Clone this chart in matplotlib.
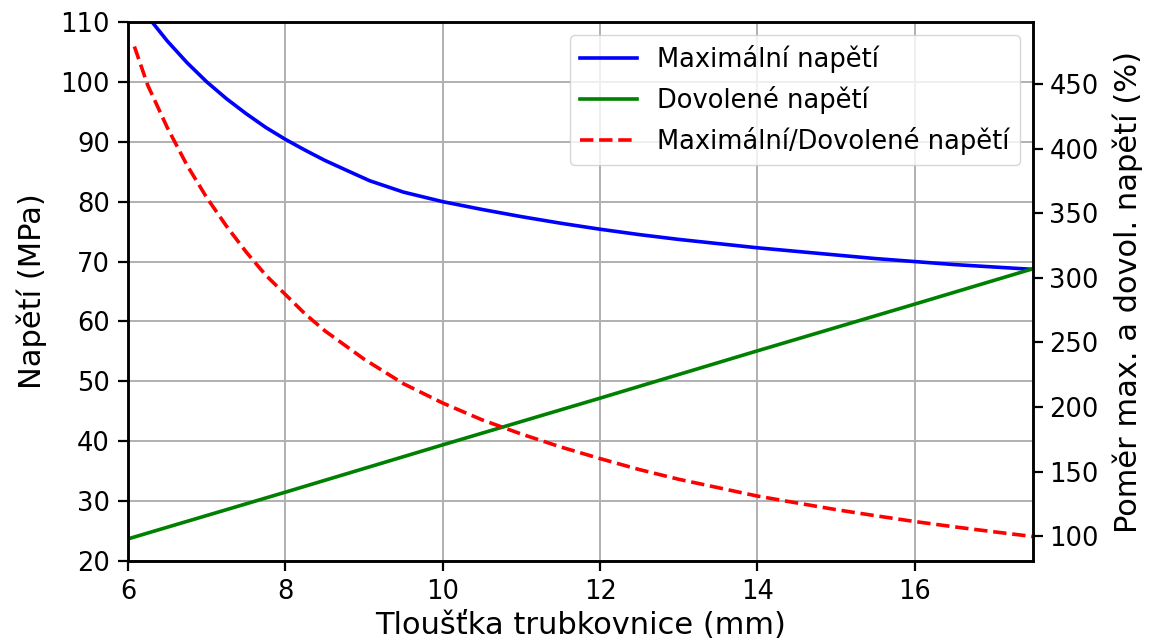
import matplotlib
matplotlib.use("Agg")
import matplotlib.pyplot as plt

# maximalni napeti (MPa) vs tloustka trubkovnice (mm)
thickness_max = [6.0, 6.25, 6.5, 6.75, 7.0, 7.25, 7.5, 7.75, 8.0, 8.25, 8.5, 8.75, 9.07,
                 9.5, 10.0, 10.5, 11.0, 11.5, 12.0, 12.5, 13.0, 13.5, 14.0, 14.5,
                 15.0, 15.5, 16.0, 16.5, 17.0, 17.5]
stress_max = [115.5, 110.9, 106.8, 103.2, 100.0, 97.2, 94.7, 92.4, 90.4, 88.6, 86.9, 85.4, 83.5,
              81.6, 80.0, 78.7, 77.5, 76.4, 75.4, 74.5, 73.7, 73.0, 72.3, 71.7,
              71.1, 70.5, 70.0, 69.5, 69.1, 68.7]

# dovolene napeti (MPa)
thickness_allowed = [6.0, 8.0, 10.0, 12.0, 14.0, 16.0, 17.5]
stress_allowed = [23.7, 31.5, 39.4, 47.2, 55.1, 62.9, 68.8]

# pomer maximalni / dovolene (%)
thickness_ratio = [6.08, 6.25, 6.5, 6.75, 7.0, 7.25, 7.5, 7.75, 8.0, 8.25, 8.5, 8.75, 9.0,
                   9.5, 10.0, 10.5, 11.0, 11.5, 12.0, 12.5, 13.0, 13.5, 14.0, 14.5,
                   15.0, 15.5, 16.0, 16.5, 17.0, 17.5]
ratio = [479, 449, 416, 387, 362, 340, 320, 302, 287, 272, 259, 248, 237,
         218, 203, 190, 179, 169, 160, 151.5, 144, 137.5, 131, 125.7,
         120.5, 115.8, 111.3, 107.2, 103.4, 99.7]

plt.rcParams['font.family'] = 'DejaVu Sans'

fig = plt.figure(figsize=(11.54, 6.4), dpi=100)
ax1 = fig.add_axes([0.111, 0.1234, 0.784, 0.8422])

l1, = ax1.plot(thickness_max, stress_max, color='blue', linewidth=2.6, label='Maximální napětí')
l2, = ax1.plot(thickness_allowed, stress_allowed, color='green', linewidth=2.6, label='Dovolené napětí')
ax1.set_xlim(6, 17.5)
ax1.set_ylim(20, 110)
ax1.set_xticks([6, 8, 10, 12, 14, 16])
ax1.set_yticks(range(20, 111, 10))
ax1.grid(True, color='#b0b0b0', linewidth=1.4)
ax1.set_xlabel('Tloušťka trubkovnice (mm)', fontsize=22, labelpad=4)
ax1.set_ylabel('Napětí (MPa)', fontsize=22, labelpad=10)
ax1.tick_params(labelsize=18.5, width=1.6, length=7, pad=6)

ax2 = ax1.twinx()
l3, = ax2.plot(thickness_ratio, ratio, color='red', linestyle='--', linewidth=2.6,
               label='Maximální/Dovolené napětí')
ax2.set_ylabel('Poměr max. a dovol. napětí (%)', fontsize=22, labelpad=10)
ax2.set_yticks(range(100, 451, 50))
ax2.tick_params(labelsize=18.5, width=1.6, length=7, pad=5)

for ax in (ax1, ax2):
    for s in ax.spines.values():
        s.set_linewidth(1.8)

ax2.legend(handles=[l1, l2, l3], loc='upper right', fontsize=18.5, handlelength=2.2)

fig.savefig('out.png', dpi=100)
